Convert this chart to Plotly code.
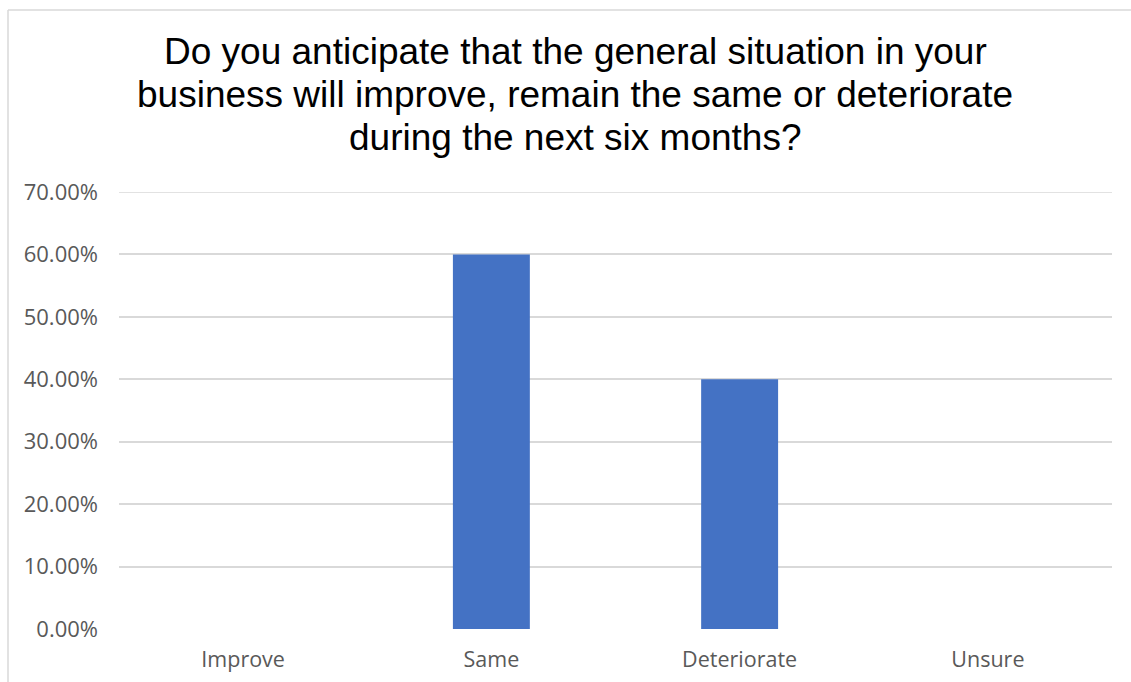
import plotly.graph_objects as go

# Survey responses: expected business situation over the next six months
categories = ["Improve", "Same", "Deteriorate", "Unsure"]
shares = [0.0, 0.60, 0.40, 0.0]
y_ticks = [0.0, 0.1, 0.2, 0.3, 0.4, 0.5, 0.6, 0.7]

title_lines = [
    "Do you anticipate that the general situation in your",
    "business will improve, remain the same or deteriorate",
    "during the next six months?",
]

W, H = 1131, 682
L, R, T, B = 119, 19, 192, 53
pw, ph = W - L - R, H - T - B
y_top = 0.7

fig = go.Figure(
    go.Bar(
        x=categories,
        y=shares,
        width=0.31,
        marker=dict(color="#4472C4", line=dict(width=0)),
        hoverinfo="x+y",
    )
)

# Light chart-area frame (left and top edges visible)
fx0 = (8 - L) / pw
fy1 = (H - B - 10) / ph
fig.add_shape(type="line", xref="paper", yref="paper",
              x0=fx0, x1=fx0, y0=-0.2, y1=fy1,
              line=dict(color="#D9D9D9", width=1.5))
fig.add_shape(type="line", xref="paper", yref="paper",
              x0=fx0, x1=1.1, y0=fy1, y1=fy1,
              line=dict(color="#D9D9D9", width=1.5))

# Top gridline sits on the plot edge, so draw it explicitly
fig.add_shape(type="line", xref="paper", yref="y",
              x0=0, x1=1, y0=y_top, y1=y_top,
              line=dict(color="#D9D9D9", width=1.5), layer="below")

# Chart title, one line per annotation for tight line spacing
title_cx = (575 - L) / pw
for i, line in enumerate(title_lines):
    baseline_px = 65.5 + 42.5 * i
    fig.add_annotation(
        text=line,
        xref="paper", yref="paper",
        x=title_cx, xanchor="center",
        y=(H - B - baseline_px - 9) / ph, yanchor="bottom",
        showarrow=False,
        font=dict(family="Liberation Sans, Arial", size=37, color="#000000"),
    )

fig.update_layout(
    width=W,
    height=H,
    margin=dict(l=L, r=R, t=T, b=B, pad=0, autoexpand=False),
    paper_bgcolor="white",
    plot_bgcolor="white",
    showlegend=False,
    xaxis=dict(
        type="category",
        automargin=False,
        showgrid=False,
        showline=False,
        zeroline=False,
        ticks="",
        ticklabelstandoff=15,
        tickfont=dict(family="Open Sans", size=21.5, color="#595959"),
    ),
    yaxis=dict(
        range=[0, y_top],
        automargin=False,
        tickvals=y_ticks,
        tickformat=".2%",
        showgrid=True,
        gridcolor="#D9D9D9",
        gridwidth=1.5,
        zeroline=False,
        showline=False,
        ticks="",
        ticklabelstandoff=20,
        tickfont=dict(family="Open Sans", size=22, color="#595959"),
    ),
)

fig.write_html("out.html")
